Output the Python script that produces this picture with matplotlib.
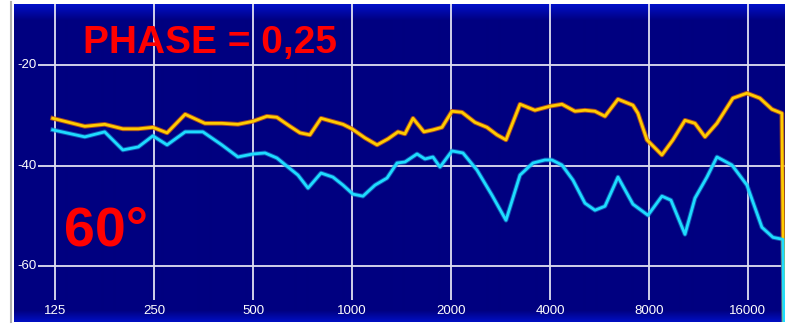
import numpy as np
import matplotlib
matplotlib.use('Agg')
import matplotlib.pyplot as plt
from matplotlib.lines import Line2D

# Frequency response (Hz, dB)
freq_yellow = [123, 154, 177, 201, 224, 248, 274, 311, 357, 402, 450, 500, 551, 591,
               648, 695, 745, 805, 869, 939, 1000, 1095, 1192, 1287, 1380, 1449, 1533,
               1655, 1763, 1878, 2014, 2160, 2365, 2574, 2761, 2940, 3243, 3600, 4000,
               4350, 4766, 5111, 5482, 5880, 6440, 7151, 7407, 7889, 8761, 9461, 10295,
               11041, 11845, 12878, 14400, 15888, 17400, 18925, 20290, 20590]
db_yellow = [-30.6, -32.2, -31.8, -32.7, -32.7, -32.4, -33.5, -29.8, -31.6, -31.6, -31.8,
             -31.2, -30.2, -30.4, -32.2, -33.5, -33.9, -30.6, -31.2, -31.8, -32.7, -34.5,
             -35.9, -34.7, -33.3, -33.7, -30.6, -33.3, -32.9, -32.4, -29.2, -29.4, -31.4,
             -32.4, -33.9, -34.9, -27.8, -29.0, -28.2, -27.8, -29.2, -29.0, -29.2, -30.2,
             -26.8, -28.0, -29.6, -34.9, -37.9, -34.9, -31.0, -31.6, -34.3, -31.6, -26.6,
             -25.6, -26.6, -28.8, -29.6, -72.8]

freq_cyan = [123, 154, 177, 201, 224, 248, 274, 311, 352, 402, 450, 500, 544, 591, 639,
             685, 735, 805, 875, 939, 1007, 1080, 1175, 1278, 1371, 1449, 1577, 1667,
             1763, 1852, 2014, 2175, 2399, 2665, 2940, 3243, 3551, 3861, 4056, 4350,
             4699, 5111, 5482, 5880, 6440, 7151, 7944, 8761, 9331, 10295, 11041, 12008,
             12878, 14300, 15888, 17645, 19063, 20440, 20590]
db_cyan = [-32.9, -34.3, -33.3, -36.9, -36.3, -34.1, -35.9, -33.3, -33.3, -35.9, -38.3,
           -37.7, -37.5, -38.5, -40.3, -41.9, -44.5, -41.5, -42.3, -43.9, -45.7, -46.1,
           -43.9, -42.5, -39.5, -39.3, -37.7, -38.7, -38.3, -40.3, -37.1, -37.5, -40.9,
           -45.9, -50.9, -41.9, -39.5, -38.9, -38.9, -39.9, -42.9, -47.5, -48.9, -48.1,
           -42.3, -47.7, -49.9, -46.1, -46.9, -53.7, -46.5, -42.3, -38.3, -39.9, -43.9,
           -52.3, -54.3, -54.7, -72.8]

x_ticks = [125, 250, 500, 1000, 2000, 4000, 8000, 16000]
y_ticks = [-20, -40, -60]

fig = plt.figure(figsize=(7.85, 3.34), dpi=100)
pos = [14 / 785, 12 / 334, 771 / 785, 318 / 334]

# background with light blue bands at top and bottom
n = 318
grad = np.zeros((n, 1, 3))
navy = np.array([0, 0, 128]) / 255
light = np.array([0, 16, 200]) / 255
for i in range(n):
    if i < 16:
        t = i / 16
        grad[i, 0] = light * (1 - t) + navy * t
    elif i > n - 12:
        t = (i - (n - 12)) / 12
        grad[i, 0] = navy * (1 - t) + light * t
    else:
        grad[i, 0] = navy
bg = fig.add_axes(pos, zorder=0)
bg.imshow(grad, aspect='auto', interpolation='bilinear')
bg.axis('off')

ax = fig.add_axes(pos, zorder=1)
ax.set_facecolor('none')
ax.set_xscale('log')
ax.set_xlim(93.8, 20740)
ax.set_ylim(-71.15, -7.85)
ax.axis('off')

grid_c = '#E0E0F2'
ax.vlines(x_ticks, -66.8, -7.85, color=grid_c, lw=1.3, zorder=1)
ax.hlines(y_ticks, 111, 20740, color=grid_c, lw=1.3, zorder=1)

for xt in x_ticks:
    ax.text(xt, -68.9, str(xt), color='white', fontsize=9.5, ha='center', va='center',
            family='Liberation Sans')
for yt in y_ticks:
    ax.text(103, yt, str(yt), color='white', fontsize=9.5, ha='center', va='center',
            family='Liberation Sans')

ax.plot(freq_yellow, db_yellow, color='#C85A10', lw=3.4, alpha=0.8, zorder=2,
        solid_joinstyle='round')
ax.plot(freq_yellow, db_yellow, color='#FFCC00', lw=2.0, zorder=3, solid_joinstyle='round')
ax.plot(freq_cyan, db_cyan, color='#1888D0', lw=3.4, alpha=0.6, zorder=2,
        solid_joinstyle='round')
ax.plot(freq_cyan, db_cyan, color='#1EDCFF', lw=2.0, zorder=3, solid_joinstyle='round')

fig.text(83 / 785, 1 - 53 / 334, 'PHASE = 0,25', color='#FF0000', fontsize=28,
         fontweight='bold', family='Liberation Sans', ha='left', va='baseline', zorder=5)
fig.text(64 / 785, 1 - 245 / 334, '60°', color='#FF0000', fontsize=40,
         fontweight='bold', family='Liberation Sans', ha='left', va='baseline', zorder=5)

fig.add_artist(Line2D([11 / 785, 11 / 785], [12 / 334, 1 - 2 / 334], color='#B0B0B0', lw=1.5))

fig.savefig('out.png', dpi=100)
